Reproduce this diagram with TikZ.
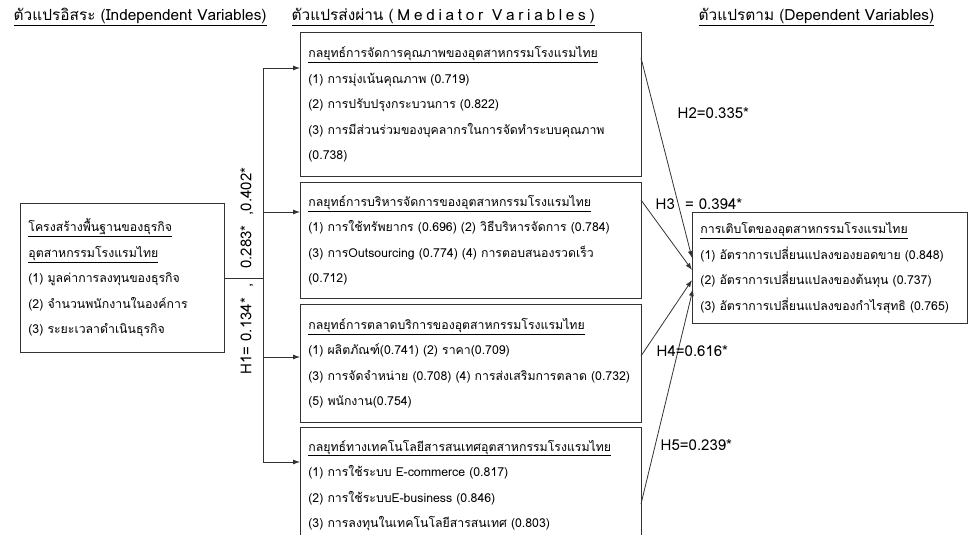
\documentclass[tikz,border=0pt]{standalone}
\usepackage{fontspec}
\setmainfont[Script=Thai]{Loma}
\usetikzlibrary{arrows.meta}
\begin{document}
\begin{tikzpicture}[x=1pt,y=-1pt,line width=0.8pt,draw=black!80,>={Latex[length=7pt,width=5pt]},
	box/.style={draw, align=left, anchor=north west, inner xsep=8pt, inner ysep=0pt, font=\fontsize{12.3}{25.5}\selectfont},
	head/.style={font=\fontsize{15.4}{17}\selectfont, anchor=west},
	coef/.style={font=\fontsize{15}{17}\selectfont, anchor=west}]
	\useasboundingbox (0,0) rectangle (970,535);
	% headings
	\node (hIV) at (10,17)	[head]	{\underline{ตัวแปรอิสระ (Independent Variables)}};
	\node (hMV) at (288,17)	[head]	{\underline{ตัวแปรส่งผ่าน {\addfontfeature{LetterSpace=24}(Mediator Variables)}}};
	\node (hDV) at (695,17)	[head]	{\underline{ตัวแปรตาม (Dependent Variables)}};
	% independent
	\node (IV) at (20,203)	[box, text width=188pt, minimum height=149pt]
		{\underline{โครงสร้างพื้นฐานของธุรกิจ}\\ \underline{อุตสาหกรรมโรงแรมไทย}\\ (1) มูลค่าการลงทุนของธุรกิจ\\ (2) จำนวนพนักงานในองค์การ\\ (3) ระยะเวลาดำเนินธุรกิจ};
	% mediators
	\node (M1) at (300,32)	[box, text width=325pt, minimum height=144pt]
		{\underline{กลยุทธ์การจัดการคุณภาพของอุตสาหกรรมโรงแรมไทย}\\ (1) การมุ่งเน้นคุณภาพ (0.719)\\ (2) การปรับปรุงกระบวนการ (0.822)\\ (3) การมีส่วนร่วมของบุคลากรในการจัดทำระบบคุณภาพ\\ (0.738)};
	\node (M2) at (300,182)	[box, text width=325pt, minimum height=116pt]
		{\underline{กลยุทธ์การบริหารจัดการของอุตสาหกรรมโรงแรมไทย}\\ (1) การใช้ทรัพยากร (0.696) (2) วิธีบริหารจัดการ (0.784)\\ (3) การOutsourcing (0.774) (4) การตอบสนองรวดเร็ว\\ (0.712)};
	\node (M3) at (300,304)	[box, text width=325pt, minimum height=118pt]
		{\underline{กลยุทธ์การตลาดบริการของอุตสาหกรรมโรงแรมไทย}\\ (1) ผลิตภัณฑ์(0.741) (2) ราคา(0.709)\\ (3) การจัดจำหน่าย (0.708) (4) การส่งเสริมการตลาด (0.732)\\ (5) พนักงาน(0.754)};
	\node (M4) at (300,427)	[box, text width=325pt, minimum height=116pt]
		{\underline{กลยุทธ์ทางเทคโนโลยีสารสนเทศอุตสาหกรรมโรงแรมไทย}\\ (1) การใช้ระบบ E-commerce (0.817)\\ (2) การใช้ระบบE-business (0.846)\\ (3) การลงทุนในเทคโนโลยีสารสนเทศ (0.803)};
	% dependent
	\node (DV) at (692,212)	[box, text width=259pt, minimum height=111pt]
		{\underline{การเติบโตของอุตสาหกรรมโรงแรมไทย}\\ (1) อัตราการเปลี่ยนแปลงของยอดขาย (0.848)\\ (2) อัตราการเปลี่ยนแปลงของต้นทุน (0.737)\\ (3) อัตราการเปลี่ยนแปลงของกำไรสุทธิ (0.765)};
	% bus from IV to mediators
	\coordinate (b1) at (263,68);
	\coordinate (b2) at (263,212);
	\coordinate (b3) at (263,357);
	\coordinate (b4) at (263,462);
	\draw (IV.east) -- (IV.east -| b1);
	\draw (b1) -- (b4);
	\draw[->] (b1) -- (b1 -| M1.west);
	\draw[->] (b2) -- (b2 -| M2.west);
	\draw[->] (b3) -- (b3 -| M3.west);
	\draw[->] (b4) -- (b4 -| M4.west);
	\node (H1) at (247,271)	[coef, anchor=center, rotate=90]	{H1= 0.134*\ \ ,\quad 0.283*\ \ ,0.402*};
	% mediators to DV
	\coordinate (s2) at (641,58);
	\coordinate (s3) at (641,200);
	\coordinate (s4) at (641,356);
	\coordinate (s5) at (641,504);
	\coordinate (t2) at (692,258);
	\coordinate (t3) at (692,270);
	\coordinate (t4) at (692,280);
	\coordinate (t5) at (693,289);
	\draw[->] (s2) -- (t2);
	\draw[->] (s3) -- (t3);
	\draw[->] (s4) -- (t4);
	\draw[->] (s5) -- (t5);
	\node (H2) at (674,113)	[coef]	{H2=0.335*};
	\node (H3) at (652,204)	[coef]	{H3 \ = 0.394*};
	\node (H4) at (653,351)	[coef]	{H4=0.616*};
	\node (H5) at (657,445)	[coef]	{H5=0.239*};
\end{tikzpicture}
\end{document}
